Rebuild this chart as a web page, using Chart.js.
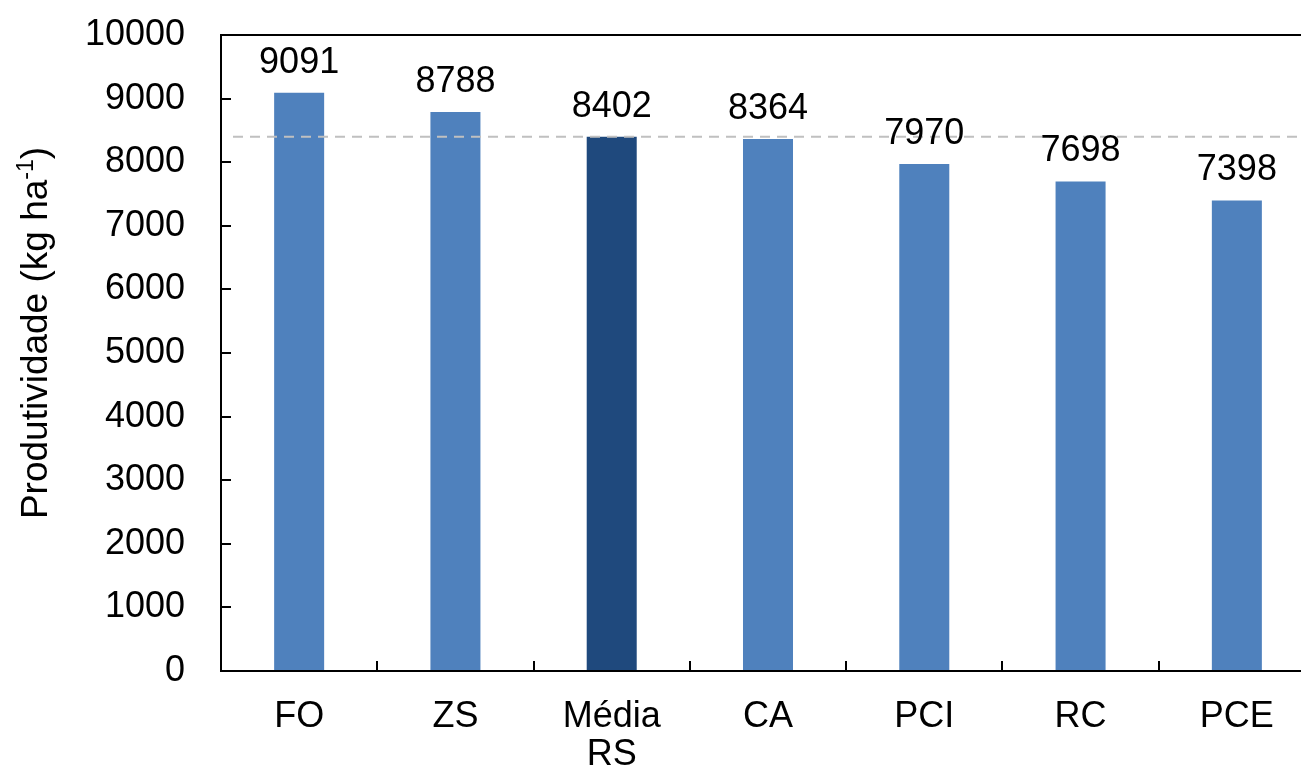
<!DOCTYPE html>
<html>
<head>
<meta charset="utf-8">
<title>Produtividade</title>
<script src="https://cdn.jsdelivr.net/npm/chart.js@4/dist/chart.umd.min.js"></script>
<style>
  html, body { margin: 0; padding: 0; background: #ffffff; overflow: hidden; }
  #wrap { width: 1301px; height: 776px; overflow: hidden; position: relative; }
  canvas { position: absolute; left: 0; top: 0; }
</style>
</head>
<body>
<div id="wrap"><canvas id="chart" width="1318" height="776"></canvas></div>
<script>
// Categories (regions) and yield values in kg/ha
const categories = ['FO', 'ZS', ['Média', 'RS'], 'CA', 'PCI', 'RC', 'PCE'];
const yieldValues = [9091, 8788, 8402, 8364, 7970, 7698, 7398];
const yTicks = [0, 1000, 2000, 3000, 4000, 5000, 6000, 7000, 8000, 9000, 10000];
const meanIndex = 2; // "Média RS" bar, also drawn as the dashed reference line

const FONT = '"Liberation Sans", Arial, sans-serif';
const BLUE = '#4F81BD';
const DARK_BLUE = '#1F497D';

// Plot frame, inner tick marks, dashed mean line and value labels
const decorations = {
  id: 'decorations',
  afterDatasetsDraw(chart) {
    const { ctx, chartArea: a, scales: { x, y } } = chart;
    ctx.save();
    // dashed line at the state average
    const yMean = y.getPixelForValue(yieldValues[meanIndex]);
    ctx.strokeStyle = '#C0C0C0';
    ctx.lineWidth = 2;
    ctx.setLineDash([10, 7]);
    ctx.beginPath();
    ctx.moveTo(a.left + 12, yMean);
    ctx.lineTo(a.right, yMean);
    ctx.stroke();
    ctx.setLineDash([]);

    // frame
    ctx.strokeStyle = '#000000';
    ctx.lineWidth = 2;
    ctx.beginPath();
    ctx.moveTo(a.right, a.top);
    ctx.lineTo(a.left, a.top);
    ctx.lineTo(a.left, a.bottom);
    ctx.lineTo(a.right, a.bottom);
    ctx.stroke();

    // inner ticks on the value axis
    ctx.beginPath();
    yTicks.forEach(v => {
      const py = Math.round(y.getPixelForValue(v));
      ctx.moveTo(a.left, py);
      ctx.lineTo(a.left + 10, py);
    });
    // inner ticks at category boundaries
    const step = (a.right - a.left) / categories.length;
    for (let i = 1; i <= categories.length; i++) {
      const px = Math.round(a.left + i * step);
      ctx.moveTo(px, a.bottom);
      ctx.lineTo(px, a.bottom - 10);
    }
    ctx.stroke();

    // value labels
    ctx.fillStyle = '#000000';
    ctx.font = '36px ' + FONT;
    ctx.textAlign = 'center';
    ctx.textBaseline = 'alphabetic';
    chart.getDatasetMeta(0).data.forEach((bar, i) => {
      ctx.fillText(String(yieldValues[i]), bar.x, bar.y - 20);
    });
    ctx.restore();
  },
  afterDraw(chart) {
    // rotated axis title with superscript exponent
    const { ctx } = chart;
    ctx.save();
    ctx.translate(47, 333);
    ctx.rotate(-Math.PI / 2);
    ctx.fillStyle = '#000000';
    ctx.textBaseline = 'alphabetic';
    ctx.textAlign = 'left';
    const main = 'Produtividade (kg ha';
    const sup = '-1';
    const tail = ')';
    const mainFont = '37px ' + FONT;
    const supFont = '23px ' + FONT;
    ctx.font = mainFont;
    const wMain = ctx.measureText(main).width;
    const wTail = ctx.measureText(tail).width;
    ctx.font = supFont;
    const wSup = ctx.measureText(sup).width;
    let xPos = -(wMain + wSup + wTail) / 2;
    ctx.font = mainFont;
    ctx.fillText(main, xPos, 0);
    xPos += wMain;
    ctx.font = supFont;
    ctx.fillText(sup, xPos, -14);
    xPos += wSup;
    ctx.font = mainFont;
    ctx.fillText(tail, xPos, 0);
    ctx.restore();
  }
};

new Chart(document.getElementById('chart'), {
  type: 'bar',
  data: {
    labels: categories,
    datasets: [{
      data: yieldValues,
      backgroundColor: ctx => (ctx.dataIndex === meanIndex ? DARK_BLUE : BLUE),
      borderWidth: 0,
      categoryPercentage: 1,
      barPercentage: 0.32
    }]
  },
  options: {
    responsive: false,
    animation: false,
    devicePixelRatio: 1,
    layout: { padding: { top: 35, right: 3, left: 0, bottom: 0 } },
    plugins: {
      legend: { display: false },
      tooltip: { enabled: false }
    },
    scales: {
      x: {
        grid: { display: false, drawTicks: false },
        border: { display: false },
        ticks: {
          color: '#000000',
          font: { family: FONT, size: 36, lineHeight: 1.06 },
          padding: 27,
          maxRotation: 0,
          autoSkip: false
        },
        afterFit(scale) { scale.height = 105; }
      },
      y: {
        min: 0,
        max: 10000,
        afterBuildTicks(scale) { scale.ticks = yTicks.map(v => ({ value: v })); },
        grid: {
          display: true,
          drawOnChartArea: false,
          drawTicks: true,
          tickLength: 36,
          color: 'rgba(0,0,0,0)'
        },
        border: { display: false },
        ticks: {
          color: '#000000',
          font: { family: FONT, size: 36 },
          padding: 0,
          callback: v => String(v)
        },
        afterFit(scale) { scale.width = 221; }
      }
    }
  },
  plugins: [decorations]
});
</script>
</body>
</html>
